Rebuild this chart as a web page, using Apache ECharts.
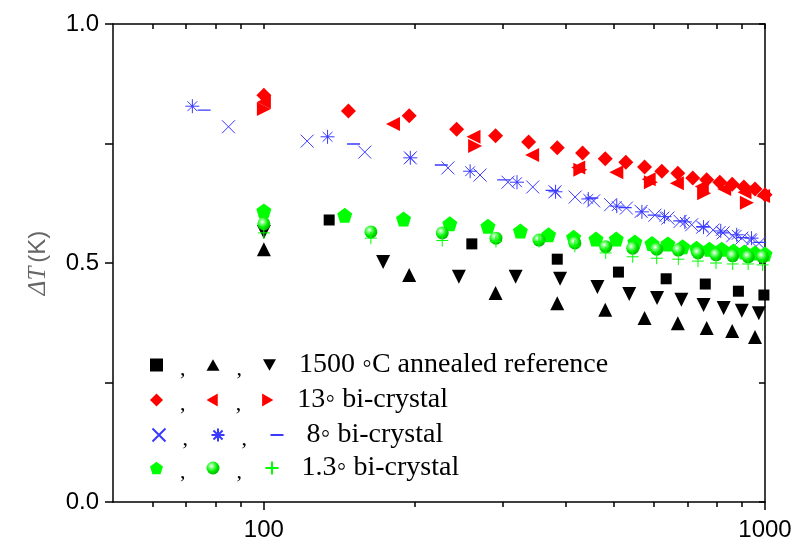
<!DOCTYPE html>
<html><head><meta charset="utf-8">
<script src="https://cdn.jsdelivr.net/npm/echarts@6/dist/echarts.min.js"></script>
<style>html,body{margin:0;padding:0;background:#fff}#c{width:798px;height:546px}</style>
</head><body><div id="c"></div>
<script>
// ---- data (frequency in Hz, ΔT in K) ----
const refSqX = [135, 260, 385, 510, 635, 760, 885, 995];
const refSqY = [0.590, 0.540, 0.508, 0.481, 0.467, 0.456, 0.441, 0.433];
const refUpX = [100, 195, 290, 385, 480, 575, 670, 765, 860, 955];
const refUpY = [0.529, 0.475, 0.437, 0.416, 0.402, 0.385, 0.374, 0.364, 0.358, 0.345];
const refDnX = [100, 173, 245, 318, 390, 463, 536, 609, 681, 754, 827, 899, 972];
const refDnY = [0.565, 0.502, 0.471, 0.471, 0.467, 0.450, 0.435, 0.427, 0.423, 0.412, 0.406, 0.400, 0.395];

const c13DiaX = [100, 147.5, 195, 242.5, 290, 337.5, 385, 432.5, 480, 527.5, 575, 622.5, 670, 717.5, 765, 812.5, 860, 907.5, 955, 1000];
const c13DiaY = [0.851, 0.818, 0.808, 0.780, 0.766, 0.753, 0.741, 0.730, 0.718, 0.711, 0.701, 0.692, 0.688, 0.678, 0.674, 0.669, 0.665, 0.659, 0.655, 0.643];
const c13LeftX = [100, 181, 262, 343, 424, 505, 586, 667, 748, 829, 910, 991];
const c13LeftY = [0.837, 0.791, 0.764, 0.726, 0.700, 0.690, 0.675, 0.667, 0.660, 0.655, 0.648, 0.640];
const c13RightX = [100, 264, 428, 592, 756, 920];
const c13RightY = [0.822, 0.745, 0.695, 0.669, 0.646, 0.626];

const c8CrossX = [85, 122, 159, 196, 233, 270, 307, 344, 381, 418, 455, 492, 529, 566, 603, 640, 677, 714, 751, 788, 825, 862, 899, 936, 973];
const c8CrossY = [0.785, 0.755, 0.732, 0.720, 0.699, 0.684, 0.669, 0.659, 0.649, 0.638, 0.630, 0.622, 0.615, 0.608, 0.600, 0.594, 0.587, 0.580, 0.575, 0.569, 0.563, 0.557, 0.552, 0.546, 0.541];
const c8StarX = [72, 134, 196, 258, 320, 382, 444, 506, 568, 630, 692, 754, 816, 878, 940];
const c8StarY = [0.828, 0.764, 0.720, 0.692, 0.669, 0.649, 0.634, 0.619, 0.607, 0.597, 0.586, 0.575, 0.567, 0.559, 0.552];
const c8DashX = [76, 151, 226, 301, 376, 451, 526, 601, 676, 751, 826, 901, 976];
const c8DashY = [0.820, 0.749, 0.705, 0.674, 0.652, 0.636, 0.616, 0.600, 0.588, 0.576, 0.563, 0.553, 0.543];

const c13gPentX = [100, 145, 190, 235, 280, 325, 370, 415, 460, 505, 550, 595, 640, 685, 730, 775, 820, 865, 910, 955, 1000];
const c13gPentY = [0.609, 0.600, 0.592, 0.582, 0.577, 0.567, 0.559, 0.554, 0.550, 0.550, 0.544, 0.541, 0.540, 0.534, 0.531, 0.529, 0.529, 0.525, 0.523, 0.521, 0.519];
const c13gBallX = [100, 163.5, 227, 290.5, 354, 417.5, 481, 544.5, 608, 671.5, 735, 798.5, 862, 925.5, 989];
const c13gBallY = [0.582, 0.565, 0.563, 0.552, 0.548, 0.542, 0.534, 0.531, 0.529, 0.527, 0.521, 0.517, 0.515, 0.513, 0.513];
const c13gPlusX = [100, 163.5, 227, 290.5, 354, 417.5, 481, 544.5, 608, 671.5, 735, 798.5, 862, 925.5, 989];
const c13gPlusY = [0.563, 0.552, 0.547, 0.545, 0.545, 0.535, 0.521, 0.513, 0.510, 0.508, 0.504, 0.500, 0.498, 0.498, 0.496];

const xMajorTicks = [100, 1000];
const xMinorTicks = [60, 70, 80, 90, 200, 300, 400, 500, 600, 700, 800, 900];
const yLabelValues = [0, 0.5, 1.0];

const legendTexts = ['1500 \u25E6C annealed reference', '13\u25E6 bi-crystal', '8\u25E6 bi-crystal', '1.3\u25E6 bi-crystal'];

// ---- helpers ----
const zip = (xs, ys) => xs.map((x, i) => [x, ys[i]]);
const BLACK = '#000000', RED = '#ff0000', BLUE = '#3a3aff', GREEN = '#00ff00';
const SYM = {
  down: 'path://M0,0L10,0L5,8.66Z',
  up: 'path://M5,0L10,8.66L0,8.66Z',
  left: 'path://M8.66,0L8.66,10L0,5Z',
  right: 'path://M0,0L8.66,5L0,10Z',
  pent: 'path://M5,0L10,3.63L8.09,9.51L1.91,9.51L0,3.63Z',
  cross: 'path://M0,0L10,10M10,0L0,10',
  star: 'path://M5,0L5,10M0,5L10,5M1.5,1.5L8.5,8.5M8.5,1.5L1.5,8.5M4.3,5L5.7,5M5,4.3L5,5.7',
  dash: 'path://M0,0L0.01,0M0,5L10,5M9.99,10L10,10',
  plus: 'path://M5,0L5,10M0,5L10,5'
};
const ballColor = {
  type: 'radial', x: 0.38, y: 0.35, r: 0.7,
  colorStops: [{offset: 0, color: '#ffffff'}, {offset: 0.25, color: '#7dff7d'}, {offset: 0.6, color: '#00ee00'}, {offset: 1, color: '#00b000'}]
};
function filled(name, xs, ys, symbol, size, color) {
  return {name, type: 'scatter', data: zip(xs, ys), symbol, symbolSize: size,
    itemStyle: {color, opacity: 1}, emphasis: {disabled: true}};
}
function stroked(name, xs, ys, symbol, size, color, w) {
  return {name, type: 'scatter', data: zip(xs, ys), symbol, symbolSize: size,
    itemStyle: {color: 'none', borderColor: color, borderWidth: w, opacity: 1}, emphasis: {disabled: true}};
}

const series = [
  filled('ref_sq', refSqX, refSqY, 'rect', 11, BLACK),
  filled('ref_up', refUpX, refUpY, SYM.up, 14, BLACK),
  filled('ref_dn', refDnX, refDnY, SYM.down, 14, BLACK),
  stroked('c8_x', c8CrossX, c8CrossY, SYM.cross, 13, BLUE, 1),
  stroked('c8_star', c8StarX, c8StarY, SYM.star, 14, BLUE, 1),
  stroked('c8_dash', c8DashX, c8DashY, SYM.dash, 13, BLUE, 1.3),
  filled('c13_dia', c13DiaX, c13DiaY, 'diamond', 15, RED),
  filled('c13_left', c13LeftX, c13LeftY, SYM.left, 14, RED),
  filled('c13_right', c13RightX, c13RightY, SYM.right, 14, RED),
  filled('g_pent', c13gPentX, c13gPentY, SYM.pent, 15, GREEN),
  filled('g_ball', c13gBallX, c13gBallY, 'circle', 13, ballColor),
  stroked('g_plus', c13gPlusX, c13gPlusY, SYM.plus, 12, GREEN, 1)
];

const rows = [['ref_sq', 'ref_up', 'ref_dn'], ['c13_dia', 'c13_left', 'c13_right'], ['c8_x', 'c8_star', 'c8_dash'], ['g_pent', 'g_ball', 'g_plus']];
const rowTops = [351, 386, 421, 454];
const legends = rows.map((r, i) => ({
  data: r, left: 150, top: rowTops[i], orient: 'horizontal', padding: 0,
  itemWidth: 13, itemHeight: 13, itemGap: 21, selectedMode: false,
  formatter: (n) => n === r[2] ? '{t|' + legendTexts[i] + '}' : '{c|,}',
  textStyle: {
    fontFamily: 'Liberation Serif', fontSize: 28, color: '#000',
    rich: {
      c: {fontFamily: 'Liberation Serif', fontSize: 22, color: '#000', padding: [8, 10, 0, 12]},
      t: {fontFamily: 'Liberation Serif', fontSize: 28, color: '#000', padding: [0, 0, 0, 18]}
    }
  }
}));

const axisFont = {fontFamily: 'Liberation Sans', fontSize: 24, color: '#000'};
const lineStyle = {color: '#000', width: 1.5};

const option = {
  animation: false,
  backgroundColor: '#fff',
  grid: {left: 113, right: 33, top: 24, bottom: 44, containLabel: false},
  legend: legends,
  xAxis: [
    {type: 'log', logBase: 10, min: 50, max: 1000, position: 'bottom',
      axisLine: {show: true, lineStyle},
      axisTick: {show: true, inside: false, length: 8, lineStyle, customValues: xMajorTicks},
      axisLabel: {show: true, margin: 16, ...axisFont, customValues: xMajorTicks, formatter: v => String(Math.round(v))},
      splitLine: {show: false}, minorTick: {show: false}},
    {type: 'log', logBase: 10, min: 50, max: 1000, position: 'bottom',
      axisLine: {show: false},
      axisTick: {show: true, inside: false, length: 5, lineStyle, customValues: xMinorTicks},
      axisLabel: {show: false}, splitLine: {show: false}},
    {type: 'log', logBase: 10, min: 50, max: 1000, position: 'top',
      axisLine: {show: true, lineStyle},
      axisTick: {show: true, inside: true, length: 5, lineStyle, customValues: xMinorTicks.concat(xMajorTicks)},
      axisLabel: {show: false}, splitLine: {show: false}}
  ],
  yAxis: [
    {type: 'value', min: 0, max: 1, interval: 0.25, position: 'left',
      name: '{a|\u0394T}{b|(K)}', nameLocation: 'middle', nameGap: 62, nameRotate: 90,
      nameTextStyle: {rich: {
        a: {fontFamily: 'Liberation Serif', fontStyle: 'italic', fontSize: 25, color: '#666'},
        b: {fontFamily: 'Liberation Sans', fontSize: 24, color: '#666', padding: [0, 0, 0, 4]}
      }},
      axisLine: {show: true, lineStyle},
      axisTick: {show: true, inside: false, length: 8, lineStyle},
      axisLabel: {show: true, margin: 14, ...axisFont, customValues: yLabelValues, formatter: v => v.toFixed(1)},
      splitLine: {show: false}},
    {type: 'value', min: 0, max: 1, interval: 0.25, position: 'right',
      axisLine: {show: true, lineStyle},
      axisTick: {show: true, inside: true, length: 6, lineStyle},
      axisLabel: {show: false}, splitLine: {show: false}}
  ],
  series: series
};
const chart = echarts.init(document.getElementById('c'), null, {renderer: 'canvas'});
chart.setOption(option);
</script>
</body></html>
